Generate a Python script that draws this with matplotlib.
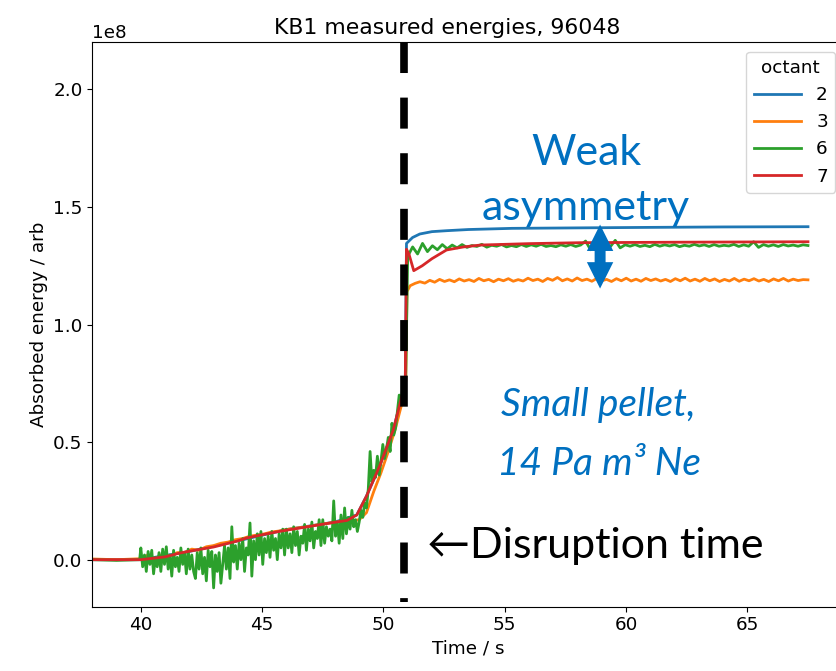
import numpy as np
import matplotlib
matplotlib.use('Agg')
import matplotlib.pyplot as plt

plt.rcParams['font.size'] = 13.2

# --- data (energies in units of 1e8) ---
# octant 7 (smooth trace)
red_t = [38.0, 40.0, 41.0, 41.6, 42.0, 43.0, 44.0, 44.35, 45.0, 45.7, 46.4, 47.1,
         47.8, 48.5, 48.9, 49.3, 49.85, 50.4, 50.9, 50.95, 51.05, 51.25, 51.6,
         52.0, 52.6, 53.3, 54.0, 56.0, 58.1, 62.0, 67.5]
red_e = [0.0, 0.0, 0.012, 0.028, 0.036, 0.054, 0.08, 0.092, 0.106, 0.12, 0.132, 0.144,
         0.156, 0.167, 0.19, 0.27, 0.40, 0.55, 0.75, 1.32, 1.30, 1.229, 1.25,
         1.28, 1.317, 1.33, 1.338, 1.344, 1.348, 1.35, 1.352]

# octant 2 (smooth, mostly hidden before the disruption)
blue_t = [38.0, 40.0, 42.0, 44.0, 46.0, 48.0, 48.9, 49.3, 49.85, 50.4, 50.9,
          50.95, 51.2, 51.5, 52.0, 52.6, 53.5, 55.3, 58.0, 60.8, 64.0, 67.5]
blue_e = [0.0, 0.0, 0.035, 0.08, 0.128, 0.16, 0.19, 0.27, 0.40, 0.55, 0.75,
          1.345, 1.37, 1.385, 1.395, 1.399, 1.404, 1.409, 1.411, 1.413, 1.415, 1.416]

# octant 6 (noisy)
green_flat_t = [38.0, 39.0, 39.95]
green_flat_e = [0.0, -0.003, 0.0]
green_pre_e = [0.05, -0.03, 0.02, -0.05, 0.035, -0.02, 0.04, -0.06, 0.01, -0.03,
               0.03, -0.05, 0.045, -0.02, 0.055, -0.04, 0.02, -0.07, 0.04, -0.03,
               0.01, -0.05, 0.05, -0.02, 0.03, -0.06, 0.045, -0.04, 0.02, -0.05,
               -0.08, 0.03, -0.04, 0.05, -0.06, 0.01, -0.09, 0.04, -0.03, 0.035,
               -0.12, 0.02, -0.05, 0.03, -0.10, -0.02, 0.06, -0.04, 0.05, -0.08,
               0.14, -0.01, 0.06, -0.04, 0.07, 0.00, 0.09, -0.05, 0.05, 0.02,
               0.156, -0.07, 0.08, 0.00, 0.11, 0.02, 0.12, -0.02, 0.09, 0.03,
               0.10, 0.01, 0.12, 0.04, 0.09, 0.00, 0.11, 0.05, 0.13, 0.02,
               0.13, 0.05, 0.11, 0.03, 0.14, 0.06, 0.12, 0.02, 0.10, 0.07,
               0.15, 0.04, 0.13, 0.08, 0.16, 0.05, 0.12, 0.09, 0.17, 0.06,
               0.17, 0.07, 0.14, 0.10, 0.13, 0.08, 0.25, 0.10, 0.16, 0.07,
               0.19, 0.09, 0.22, 0.11, 0.18, 0.13, 0.21, 0.14, 0.17, 0.12,
               0.16, 0.21, 0.18, 0.24, 0.22, 0.30, 0.46, 0.33, 0.38, 0.35,
               0.44, 0.36, 0.42, 0.49, 0.43, 0.47, 0.52, 0.46, 0.58, 0.53,
               0.56, 0.63, 0.70, 0.66, 0.74]
green_jump_t = [50.92]
green_jump_e = [0.78]
green_post_e = [1.29, 1.33, 1.30, 1.345, 1.31, 1.335, 1.318, 1.34, 1.322, 1.338,
                1.326, 1.34, 1.328, 1.336, 1.332, 1.341, 1.329, 1.337, 1.333, 1.34,
                1.33, 1.336, 1.331, 1.34, 1.332, 1.339, 1.333, 1.341, 1.332, 1.336,
                1.331, 1.339, 1.333, 1.34, 1.332, 1.338, 1.355, 1.318, 1.337, 1.333,
                1.34, 1.331, 1.358, 1.326, 1.339, 1.333, 1.34, 1.332, 1.337, 1.331,
                1.341, 1.333, 1.339, 1.334, 1.34, 1.331, 1.337, 1.333, 1.341, 1.334,
                1.339, 1.332, 1.34, 1.333, 1.337, 1.334, 1.341, 1.332, 1.339, 1.333,
                1.352, 1.328, 1.34, 1.333, 1.339, 1.332, 1.34, 1.334, 1.338, 1.333,
                1.339, 1.336]

# octant 3 (noisy)
orange_flat_t = [38.0, 39.0, 39.95]
orange_flat_e = [0.003, 0.0, 0.004]
orange_pre_e = [0.005, 0.02, 0.0, 0.025, 0.015, 0.03, 0.03, 0.045, 0.04, 0.055,
                0.06, 0.07, 0.075, 0.085, 0.09, 0.10, 0.105, 0.11, 0.118, 0.122,
                0.128, 0.133, 0.137, 0.141, 0.147, 0.152, 0.156, 0.16, 0.163, 0.165,
                0.17, 0.20, 0.29, 0.37, 0.46, 0.56, 0.68]
orange_jump_t = [50.92, 50.97]
orange_jump_e = [0.76, 1.14]
orange_post_e = [1.165, 1.175, 1.182, 1.176, 1.188, 1.18, 1.192, 1.183, 1.19, 1.182,
                 1.194, 1.185, 1.191, 1.183, 1.196, 1.186, 1.192, 1.182, 1.193, 1.186,
                 1.195, 1.184, 1.191, 1.185, 1.197, 1.187, 1.193, 1.183, 1.196, 1.188,
                 1.2, 1.186, 1.194, 1.185, 1.198, 1.187, 1.193, 1.184, 1.196, 1.186,
                 1.192, 1.183, 1.195, 1.186, 1.197, 1.185, 1.193, 1.184, 1.196, 1.187,
                 1.194, 1.185, 1.192, 1.183, 1.195, 1.186, 1.197, 1.185, 1.193, 1.184,
                 1.196, 1.186, 1.194, 1.183, 1.192, 1.185, 1.196, 1.184, 1.193, 1.186,
                 1.195, 1.185, 1.192, 1.183, 1.194, 1.186, 1.196, 1.185, 1.193, 1.187,
                 1.191, 1.19]

t_disruption = 50.84
scale = 1e8

# assemble noisy traces on their sampling grids
green_t = np.concatenate([green_flat_t, np.linspace(40.0, 50.8, len(green_pre_e)),
                          green_jump_t, np.linspace(51.0, 67.5, len(green_post_e))])
green_e = np.concatenate([green_flat_e, green_pre_e, green_jump_e, green_post_e])
orange_t = np.concatenate([orange_flat_t, np.linspace(40.0, 50.8, len(orange_pre_e)),
                           orange_jump_t, np.linspace(51.1, 67.5, len(orange_post_e))])
orange_e = np.concatenate([orange_flat_e, orange_pre_e, orange_jump_e, orange_post_e])

fig = plt.figure(figsize=(8.37, 6.71), dpi=100)
ax = fig.add_axes([0.1103, 0.0958, 0.8985, 0.8411])

ax.plot(blue_t, np.array(blue_e) * scale, color='C0', lw=2, label='2')
ax.plot(orange_t, orange_e * scale, color='C1', lw=2, label='3')
ax.plot(green_t, green_e * scale, color='C2', lw=2, label='6')
ax.plot(red_t, np.array(red_e) * scale, color='C3', lw=2, label='7')

ax.set_xlim(38.0, 69.0)
ax.set_ylim(-0.2e8, 2.2e8)
ax.set_xticks([40, 45, 50, 55, 60, 65])
ax.set_yticks([0, 0.5e8, 1.0e8, 1.5e8, 2.0e8])
ax.spines['right'].set_visible(False)

# disruption marker, drawn top-down so the dash pattern starts at the top
ax.plot([t_disruption, t_disruption], [2.2e8, -0.18e8], color='black', lw=5.5,
        dashes=(4.06, 3.22), solid_capstyle='butt', dash_capstyle='butt', clip_on=False)

ax.set_title('KB1 measured energies, 96048', x=0.472)
ax.set_xlabel('Time / s')
ax.set_ylabel('Absorbed energy / arb')
ax.legend(title='octant', loc='upper right', handlelength=2.6)

blue_txt = '#0070C0'
ax.text(58.35, 1.678e8, 'Weak', color=blue_txt, fontsize=31, family='Lato',
        ha='center', va='baseline')
ax.text(58.35, 1.444e8, 'asymmetry', color=blue_txt, fontsize=31, family='Lato',
        ha='center', va='baseline')
ax.text(58.85, 0.609e8, 'Small pellet,', color=blue_txt, fontsize=28, family='Lato',
        style='italic', ha='center', va='baseline')
ax.text(58.9, 0.361e8, '14 Pa m\u00b3 Ne', color=blue_txt, fontsize=28, family='Lato',
        style='italic', ha='center', va='baseline')
ax.text(51.8, 0.007e8, '\u2190Disruption time', color='black', fontsize=31,
        family=['Lato', 'DejaVu Sans'], ha='left', va='baseline')

# double-headed asymmetry arrow (two halves overlapping in the middle)
arr_t = 58.93
arr_top, arr_bot = 1.425e8, 1.153e8
arr_mid = (arr_top + arr_bot) / 2
style = 'simple,head_length=1.0,head_width=1.0,tail_width=0.4'
for end, start in ((arr_top, arr_mid - 0.03e8), (arr_bot, arr_mid + 0.03e8)):
    ax.annotate('', xy=(arr_t, end), xytext=(arr_t, start),
                arrowprops=dict(arrowstyle=style, mutation_scale=19, color=blue_txt,
                                shrinkA=0, shrinkB=0, lw=0))

fig.savefig('out.png', dpi=100)
